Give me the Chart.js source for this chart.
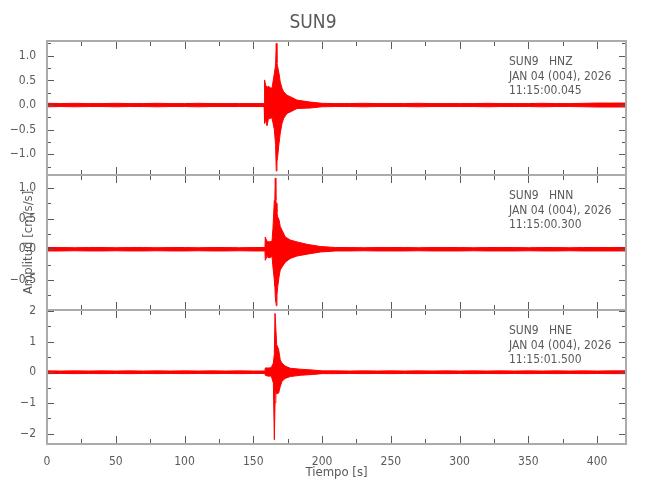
<!DOCTYPE html>
<html><head><meta charset="utf-8">
<script src="https://cdn.jsdelivr.net/npm/chart.js@4.4.1/dist/chart.umd.min.js"></script>
<style>
html,body{margin:0;padding:0;background:#fff;}
#wrap{position:relative;width:650px;height:500px;overflow:hidden;background:#fff;}
.pc{position:absolute;left:0;width:650px;}
canvas{display:block;}
</style></head><body>
<div id="wrap">
<div class="pc" style="top:0px;height:180px"><canvas id="c1" width="650" height="180"></canvas></div>
<div class="pc" style="top:170px;height:145px"><canvas id="c2" width="650" height="145"></canvas></div>
<div class="pc" style="top:305px;height:195px"><canvas id="c3" width="650" height="195"></canvas></div>
</div>
<script>
// ---------- data ----------
const chartTitle = 'SUN9';
const xTitle = 'Tiempo [s]';
const yTitle = 'Amplitud [cm/s/s]';
const xMajorTicks = [0,50,100,150,200,250,300,350,400];
const xMajorLabels = ['0','50','100','150','200','250','300','350','400'];
const xMinorTicks = [25,75,125,175,225,275,325,375];

// HNZ: envelope (max / min per time point)
const hnzTime  = [0,10,20,30,40,50,60,70,80,90,100,110,120,130,140,150,
  157.9,158.2,159.0,160.0,161.0,162.4,163.6,165.3,166.2,166.7,167.2,167.7,168.7,169.6,170.9,172.1,174.5,176.9,181.8,191.5,
  200,210,220,230,240,250,260,270,280,290,300,310,320,330,340,350,360,370,380,390,400,410,421];
const hnzUpper = [0.035,0.03,0.035,0.03,0.03,0.035,0.03,0.03,0.035,0.03,0.03,0.035,0.03,0.03,0.03,0.03,
  0.03,0.51,0.40,0.36,0.38,0.35,0.34,0.64,0.81,1.25,0.85,0.78,0.64,0.47,0.34,0.27,0.20,0.17,0.10,0.06,
  0.035,0.03,0.03,0.035,0.03,0.03,0.03,0.035,0.03,0.03,0.03,0.03,0.035,0.03,0.03,0.03,0.035,0.03,0.03,0.035,0.04,0.04,0.04];
const hnzLower = [-0.035,-0.03,-0.035,-0.03,-0.03,-0.035,-0.03,-0.03,-0.035,-0.03,-0.03,-0.035,-0.03,-0.03,-0.03,-0.03,
  -0.03,-0.37,-0.30,-0.42,-0.28,-0.27,-0.26,-0.50,-0.80,-1.34,-1.15,-1.05,-0.78,-0.57,-0.37,-0.27,-0.17,-0.14,-0.07,-0.06,
  -0.035,-0.03,-0.03,-0.035,-0.03,-0.03,-0.03,-0.035,-0.03,-0.03,-0.03,-0.03,-0.035,-0.03,-0.03,-0.03,-0.035,-0.03,-0.03,-0.035,-0.04,-0.04,-0.04];
const hnzTicks = [-1.0,-0.5,0,0.5,1.0];
const hnzTickLabels = ['\u22121.0','\u22120.5','0.0','0.5','1.0'];
const hnzMinor = [-1.25,-0.75,-0.25,0.25,0.75,1.25];
const hnzInfo = ['SUN9   HNZ','JAN 04 (004), 2026','11:15:00.045'];

// HNN
const hnnTime  = [0,10,20,30,40,50,60,70,80,90,100,110,120,130,140,150,
  158.5,158.7,159.9,161.5,163.6,164.3,165.3,165.7,166.0,166.4,166.7,167.2,167.7,168.7,169.6,170.9,173.3,176.9,181.8,189.1,198.8,
  210,220,230,240,250,260,270,280,290,300,310,320,330,340,350,360,370,380,390,400,410,421];
const hnnUpper = [0.028,0.028,0.025,0.028,0.028,0.025,0.028,0.028,0.025,0.028,0.028,0.025,0.028,0.028,0.025,0.028,
  0.028,0.20,0.13,0.12,0.13,0.34,0.80,0.85,1.16,0.80,0.75,0.60,0.53,0.48,0.37,0.31,0.20,0.15,0.12,0.08,0.045,
  0.028,0.028,0.025,0.028,0.028,0.028,0.025,0.028,0.028,0.028,0.025,0.028,0.028,0.028,0.025,0.028,0.028,0.025,0.028,0.028,0.028,0.028];
const hnnLower = [-0.028,-0.028,-0.025,-0.028,-0.028,-0.025,-0.028,-0.028,-0.025,-0.028,-0.028,-0.025,-0.028,-0.028,-0.025,-0.028,
  -0.028,-0.18,-0.12,-0.14,-0.12,-0.29,-0.50,-0.60,-0.78,-0.85,-0.92,-0.75,-0.62,-0.45,-0.34,-0.29,-0.21,-0.15,-0.11,-0.08,-0.045,
  -0.028,-0.028,-0.025,-0.028,-0.028,-0.028,-0.025,-0.028,-0.028,-0.028,-0.025,-0.028,-0.028,-0.028,-0.025,-0.028,-0.028,-0.025,-0.028,-0.028,-0.028,-0.028];
const hnnTicks = [-0.5,0,0.5,1.0];
const hnnTickLabels = ['\u22120.5','0.0','0.5','1.0'];
const hnnMinor = [-0.75,-0.25,0.25,0.75];
const hnnInfo = ['SUN9   HNN','JAN 04 (004), 2026','11:15:00.300'];

// HNE
const hneTime  = [0,10,20,30,40,50,60,70,80,90,100,110,120,130,140,150,
  158.5,158.7,161.0,163.0,164.6,165.3,165.8,166.4,167.0,168.4,169.6,170.8,173.2,176.9,184.1,193.8,
  200,210,220,230,240,250,260,270,280,290,300,310,320,330,340,350,360,370,380,390,400,410,421];
const hneUpper = [0.045,0.04,0.045,0.04,0.045,0.04,0.045,0.04,0.045,0.04,0.045,0.04,0.045,0.04,0.045,0.04,
  0.04,0.14,0.14,0.15,0.30,0.60,1.92,1.92,0.90,0.75,0.40,0.30,0.20,0.13,0.10,0.07,
  0.045,0.045,0.04,0.045,0.04,0.045,0.04,0.045,0.04,0.045,0.04,0.045,0.04,0.045,0.04,0.045,0.04,0.045,0.04,0.045,0.04,0.045,0.045];
const hneLower = [-0.045,-0.04,-0.045,-0.04,-0.045,-0.04,-0.045,-0.04,-0.045,-0.04,-0.045,-0.04,-0.045,-0.04,-0.045,-0.04,
  -0.04,-0.10,-0.13,-0.12,-0.35,-2.20,-1.00,-0.60,-0.70,-0.68,-0.47,-0.30,-0.20,-0.14,-0.10,-0.07,
  -0.045,-0.045,-0.04,-0.045,-0.04,-0.045,-0.04,-0.045,-0.04,-0.045,-0.04,-0.045,-0.04,-0.045,-0.04,-0.045,-0.04,-0.045,-0.04,-0.045,-0.04,-0.045,-0.045];
const hneTicks = [-2,-1,0,1,2];
const hneTickLabels = ['\u22122','\u22121','0','1','2'];
const hneMinor = [-1.5,-0.5,0.5,1.5];
const hneInfo = ['SUN9   HNE','JAN 04 (004), 2026','11:15:01.500'];

// ---------- styling ----------
const FONT = "'Liberation Sans Narrow','DejaVu Sans Condensed','Liberation Sans',sans-serif";
const TXT = '#5a5a5a';
const TRACE = '#ff0000';
const XMIN = 0, XMAX = 421;

const framePlugin = {
  id: 'frame',
  afterDatasetsDraw(chart, args, opts) {
    const {ctx, chartArea: a, scales} = chart;
    const xs = scales.x, ys = scales.y;
    ctx.save();
    ctx.strokeStyle = '#5a5a5a';
    ctx.lineWidth = 1;
    ctx.beginPath();
    const xt = (vals, len) => vals.forEach(v => {
      const p = Math.round(xs.getPixelForValue(v)) + 0.5;
      ctx.moveTo(p, a.top); ctx.lineTo(p, a.top + len);
      ctx.moveTo(p, a.bottom); ctx.lineTo(p, a.bottom - len);
    });
    const yt = (vals, len) => vals.forEach(v => {
      const p = Math.round(ys.getPixelForValue(v)) + 0.5;
      ctx.moveTo(a.left, p); ctx.lineTo(a.left + len, p);
      ctx.moveTo(a.right, p); ctx.lineTo(a.right - len, p);
    });
    xt(xMajorTicks, 8); xt(xMinorTicks, 5);
    yt(opts.yMajor, 7); yt(opts.yMinor, 4);
    ctx.stroke();
    ctx.strokeStyle = '#ababab';
    ctx.lineWidth = 2;
    ctx.strokeRect(a.left, a.top, a.right - a.left, a.bottom - a.top);
    ctx.fillStyle = TXT;
    ctx.font = '12px ' + FONT;
    ctx.textAlign = 'left';
    ctx.textBaseline = 'middle';
    opts.lines.forEach((s, i) => ctx.fillText(s, a.right - 117, a.top + 21 + i * 14.5));
    ctx.restore();
  }
};

function pts(t, v) { return t.map((x, i) => ({x: x, y: v[i]})); }
function noPad(s) { s.paddingTop = 0; s.paddingBottom = 0; s.paddingLeft = 0; s.paddingRight = 0; }

function makeChart(id, cfg) {
  const datasets = [
    {data: pts(cfg.time, cfg.upper), borderColor: TRACE, backgroundColor: TRACE, borderWidth: 1, pointRadius: 0, fill: '+1', tension: 0},
    {data: pts(cfg.time, cfg.lower), borderColor: TRACE, backgroundColor: TRACE, borderWidth: 1, pointRadius: 0, fill: false, tension: 0}
  ];
  const yAxis = {
    type: 'linear', min: cfg.ymin, max: cfg.ymax,
    afterFit: s => { s.width = 47; noPad(s); },
    afterBuildTicks: s => { s.ticks = cfg.ticks.map(v => ({value: v})); },
    grid: {display: false}, border: {display: false},
    ticks: {padding: 3, color: TXT, font: {family: FONT, size: 12},
      callback: v => { const i = cfg.ticks.indexOf(v); return i >= 0 ? cfg.tickLabels[i] : ''; }},
    title: cfg.yTitle ? {display: true, text: cfg.yTitle, color: TXT, font: {family: FONT, size: 13}, padding: {top: 21, bottom: 0}} : {display: false}
  };
  const xAxis = cfg.showX ? {
    type: 'linear', min: XMIN, max: XMAX,
    afterFit: s => { s.height = 56; noPad(s); },
    afterBuildTicks: s => { s.ticks = xMajorTicks.map(v => ({value: v})); },
    grid: {display: false}, border: {display: false},
    ticks: {padding: 3, color: TXT, font: {family: FONT, size: 12}, maxRotation: 0, autoSkip: false,
      callback: v => { const i = xMajorTicks.indexOf(v); return i >= 0 ? xMajorLabels[i] : ''; }},
    title: {display: true, text: xTitle, color: TXT, font: {family: FONT, size: 13}, padding: {top: 0, bottom: 20}}
  } : {type: 'linear', min: XMIN, max: XMAX, display: false};
  return new Chart(document.getElementById(id), {
    type: 'line',
    data: {datasets: datasets},
    options: {
      responsive: false, animation: false, parsing: true,
      layout: {padding: cfg.padding},
      plugins: {
        legend: {display: false}, tooltip: {enabled: false},
        title: cfg.title ? {display: true, text: cfg.title, color: TXT, font: {family: FONT, size: 19, weight: 'normal'}, padding: {top: 11.6, bottom: 6.6}} : {display: false},
        frame: {lines: cfg.info, yMajor: cfg.ticks, yMinor: cfg.minor}
      },
      scales: {x: xAxis, y: yAxis}
    },
    plugins: [framePlugin]
  });
}

makeChart('c1', {time: hnzTime, upper: hnzUpper, lower: hnzLower, ymin: -1.42, ymax: 1.30,
  ticks: hnzTicks, tickLabels: hnzTickLabels, minor: hnzMinor, info: hnzInfo,
  title: chartTitle, padding: {top: 0, bottom: 5, left: 0, right: 24}});
makeChart('c2', {time: hnnTime, upper: hnnUpper, lower: hnnLower, ymin: -0.99, ymax: 1.21,
  ticks: hnnTicks, tickLabels: hnnTickLabels, minor: hnnMinor, info: hnnInfo, yTitle: yTitle,
  padding: {top: 5, bottom: 5, left: 0, right: 24}});
makeChart('c3', {time: hneTime, upper: hneUpper, lower: hneLower, ymin: -2.34, ymax: 2.03,
  ticks: hneTicks, tickLabels: hneTickLabels, minor: hneMinor, info: hneInfo, showX: true,
  padding: {top: 5, bottom: 0, left: 0, right: 24}});
</script>
</body></html>
